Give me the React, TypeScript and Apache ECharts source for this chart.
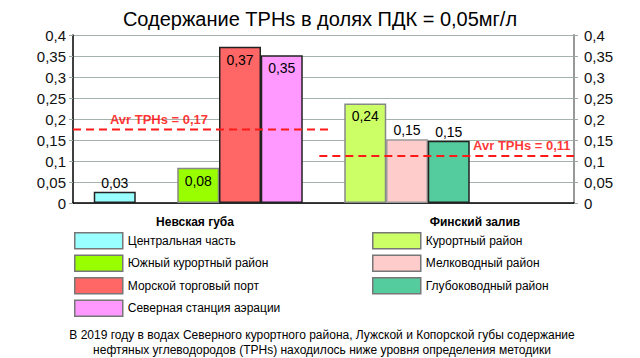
import React, { useEffect, useRef } from "react";
import * as echarts from "echarts";

const chartTitle = "Содержание TPHs в долях ПДК = 0,05мг/л";
const groupNames = ["Невская губа", "Финский залив"];
const categories = [
  "Центральная часть",
  "Южный курортный район",
  "Морской торговый порт",
  "Северная станция аэрации",
  "Курортный район",
  "Мелководный район",
  "Глубоководный район",
];
const groupOf = [0, 0, 0, 0, 1, 1, 1];
const values = [0.027, 0.084, 0.372, 0.352, 0.237, 0.152, 0.148];
const slots = [1, 3, 4, 5, 7, 8, 9];
const colors = ["#99FFFF", "#99FF00", "#FF6666", "#FF99FF", "#CCFF66", "#FFCCCC", "#55CC9E"];
const borderColors = ["#222222", "#888888", "#222222", "#222222", "#888888", "#999999", "#222222"];
const labelPos = ["top", "insideTop", "insideTop", "insideTop", "insideTop", "top", "top"];
const avgValues = [0.175, 0.112];
const avgLabels = ["Avr TPHs = 0,17", "Avr TPHs = 0,11"];
const avgSpans = [
  [0, 6.15],
  [5.9, 12],
];
const avgLabelX = [2.06, 10.75];
const note =
  "В 2019 году в водах Северного курортного района, Лужской и Копорской губы содержание\nнефтяных углеводородов (TPHs) находилось ниже уровня определения методики";

const FONT = 'Arial, "Liberation Sans", sans-serif';
const fmt = (v: number) => String(+v.toFixed(2)).replace(".", ",");

export default function App() {
  const ref = useRef<HTMLDivElement>(null);
  useEffect(() => {
    if (!ref.current) return;
    const chart = echarts.init(ref.current, undefined, { renderer: "svg" });
    const barSeries = categories.map((name, i) => ({
      type: "bar",
      name,
      xAxisIndex: 0,
      yAxisIndex: 0,
      barWidth: 42,
      barGap: "-100%",
      data: [[slots[i], values[i]]],
      itemStyle: { color: colors[i], borderColor: borderColors[i], borderWidth: 1.5 },
      label: {
        show: true,
        position: labelPos[i],
        distance: labelPos[i] === "top" ? 2 : 6,
        formatter: () => fmt(values[i]),
        fontSize: 14,
        fontFamily: FONT,
        color: "#000",
      },
    }));
    const avgLines = avgValues.map((v, i) => ({
      type: "line",
      name: "avg" + i,
      symbol: "none",
      data: [
        [avgSpans[i][0], v],
        [avgSpans[i][1], v],
      ],
      lineStyle: { color: "#FF1a1a", width: 2, type: [8, 5] },
      z: 5,
    }));
    const avgText = avgValues.map((v, i) => ({
      type: "scatter",
      name: "avgLabel" + i,
      symbolSize: 1,
      itemStyle: { color: "transparent" },
      data: [[avgLabelX[i], v]],
      label: {
        show: true,
        position: "top",
        distance: 3,
        formatter: () => avgLabels[i],
        color: "#FF0000",
        fontWeight: "bold",
        fontSize: 13,
        fontFamily: FONT,
      },
      z: 6,
    }));
    const yAxisBase = {
      type: "value",
      min: 0,
      max: 0.4,
      interval: 0.05,
      axisLabel: { formatter: (v: number) => fmt(v), fontSize: 15, fontFamily: FONT, color: "#111" },
      axisTick: { show: true, length: 4, lineStyle: { color: "#9aaaa2" } },
    };
    chart.setOption({
      animation: false,
      textStyle: { fontFamily: FONT },
      title: {
        text: chartTitle,
        left: "center",
        top: 4,
        textStyle: { fontSize: 20, fontWeight: "normal", color: "#000", fontFamily: FONT },
      },
      grid: { left: 73, right: 66, top: 35, bottom: 155 },
      xAxis: {
        type: "value",
        min: 0,
        max: 12,
        axisLabel: { show: false },
        axisTick: { show: false },
        splitLine: { show: false },
        axisLine: { show: true, onZero: false, lineStyle: { color: "#000", width: 1.5 } },
      },
      yAxis: [
        {
          ...yAxisBase,
          position: "left",
          axisLabel: { ...yAxisBase.axisLabel, margin: 7 },
          axisLine: { show: true, lineStyle: { color: "#000", width: 1.5 } },
          splitLine: { show: true, lineStyle: { color: "#a4b4ac", width: 1 } },
        },
        {
          ...yAxisBase,
          position: "right",
          axisLabel: { ...yAxisBase.axisLabel, margin: 10 },
          axisLine: { show: true, lineStyle: { color: "#999", width: 2 } },
          splitLine: { show: false },
        },
      ],
      legend: [0, 1].map((g) => ({
        orient: "vertical",
        left: g === 0 ? 74 : 372,
        top: 232,
        padding: 0,
        itemWidth: 48,
        itemHeight: 16,
        itemGap: 5,
        icon: "rect",
        data: categories.filter((_, i) => groupOf[i] === g),
        itemStyle: { borderColor: "#777", borderWidth: 1.5 },
        textStyle: { fontSize: 12, fontFamily: FONT, color: "#000" },
      })),
      graphic: [
        {
          type: "text",
          x: 195,
          y: 216,
          style: { text: groupNames[0], font: `bold 12px ${FONT}`, fill: "#000", textAlign: "center" },
        },
        {
          type: "text",
          x: 475,
          y: 216,
          style: { text: groupNames[1], font: `bold 12px ${FONT}`, fill: "#000", textAlign: "center" },
        },
        {
          type: "text",
          x: 322,
          y: 327,
          style: {
            text: note,
            font: `12px ${FONT}`,
            fill: "#000",
            textAlign: "center",
            lineHeight: 15,
          },
        },
      ],
      series: [...barSeries, ...avgLines, ...avgText],
    });
    return () => chart.dispose();
  }, []);
  return (
    <div
      ref={ref}
      style={{ position: "fixed", left: 0, top: 0, width: 640, height: 358, background: "#fff" }}
    />
  );
}
